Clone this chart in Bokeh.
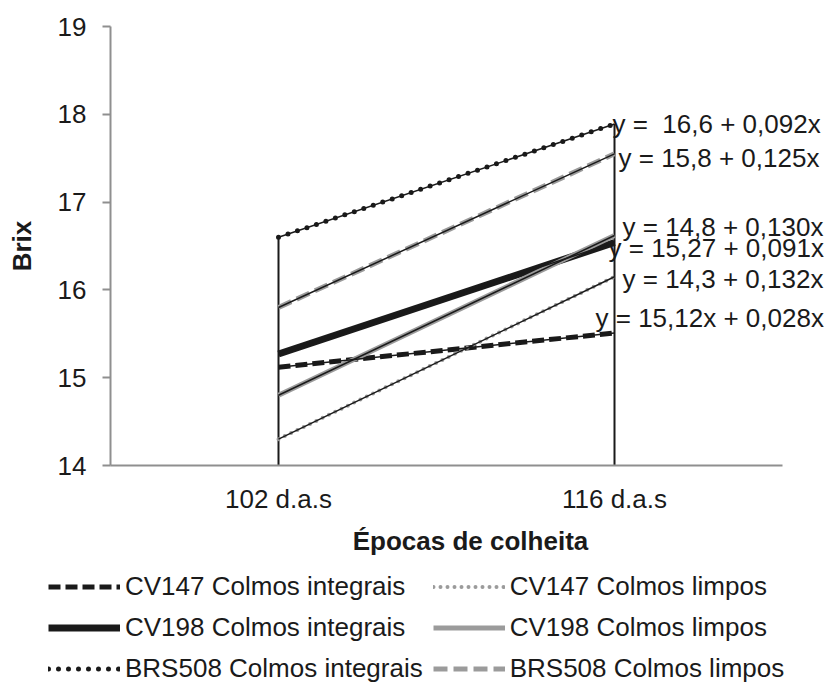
from bokeh.plotting import figure
from bokeh.layouts import column
from bokeh.models import (ColumnDataSource, Range1d, LabelSet, Legend, LegendItem,
                          SingleIntervalTicker, FixedTicker)
from bokeh.core.properties import value
from bokeh.embed import file_html
from bokeh.resources import INLINE

# Harvest dates (days after sowing) and Brix of each cultivar / stalk type
dias = [102, 116]
epocas = ["102 d.a.s", "116 d.a.s"]
series_names = [
    "CV147 Colmos integrais", "CV147 Colmos limpos",
    "CV198 Colmos integrais", "CV198 Colmos limpos",
    "BRS508 Colmos integrais", "BRS508 Colmos limpos",
]
brix_102 = [15.12, 14.30, 15.27, 14.80, 16.60, 15.80]
brix_116 = [15.51, 16.15, 16.54, 16.62, 17.89, 17.55]
equacoes = [
    "y = 15,12x + 0,028x", "y = 14,3 + 0,132x",
    "y = 15,27 + 0,091x", "y = 14,8 + 0,130x",
    "y = \u00a016,6 + 0,092x", "y = 15,8 + 0,125x",
]

FONT = "Liberation Sans"
INK = "#1a1a1a"
AXIS_GREY = "#8f8f8f"
SERIES_GREY = "#9b9b9b"

# line style of each series (same order as series_names)
styles = [
    dict(line_color=INK, line_width=5, line_dash="12 5"),
    dict(line_color=SERIES_GREY, line_width=4, line_dash="0 7", line_cap="round"),
    dict(line_color=INK, line_width=7),
    dict(line_color=SERIES_GREY, line_width=5),
    dict(line_color=INK, line_width=5, line_dash="0 10", line_cap="round"),
    dict(line_color=SERIES_GREY, line_width=5, line_dash="14 6"),
]
# screen offsets of the regression equation labels
label_dx = [-19, 8, -6, 8, -2, 4]
label_dy = [15, -2, -6, 8, 0, -4]

p = figure(
    width=830, height=560,
    x_range=Range1d(95, 125), y_range=Range1d(14, 19),
    output_backend="svg", toolbar_location=None,
    min_border_left=110, min_border_right=0,
    min_border_top=26, min_border_bottom=95,
)
p.outline_line_color = None
p.grid.visible = False
p.background_fill_color = "white"
p.border_fill_color = "white"
p.frame_align = False

# drop lines from the axis to the highest series at each date
tops = [max(brix_102), max(brix_116)]
drop_src = ColumnDataSource(dict(x=dias, y0=[p.y_range.start] * 2, y1=tops))
p.segment(x0="x", y0="y0", x1="x", y1="y1", source=drop_src,
          line_color=INK, line_width=2)

series_sources = [ColumnDataSource(dict(x=dias, y=[a, b]))
                  for a, b in zip(brix_102, brix_116)]
for src, st in zip(series_sources, styles):
    p.line("x", "y", source=src, **st)

# linear trend lines over each series
for src in series_sources:
    p.line("x", "y", source=src, line_color=INK, line_width=1.5)

# regression equations next to the last date
eq_src = ColumnDataSource(dict(
    x=[dias[1]] * len(equacoes), y=brix_116, text=equacoes,
    dx=label_dx, dy=label_dy,
))
p.add_layout(LabelSet(
    x="x", y="y", text="text", source=eq_src,
    x_offset="dx", y_offset="dy",
    text_align="left", text_baseline="middle",
    text_font=value(FONT), text_font_size="26px", text_color=INK,
))

# axes
p.yaxis.ticker = SingleIntervalTicker(interval=1)
p.yaxis.minor_tick_line_color = None
p.yaxis.major_tick_in = 0
p.yaxis.major_tick_out = 8
p.yaxis.major_tick_line_color = AXIS_GREY
p.yaxis.major_tick_line_width = 2
p.yaxis.axis_line_color = AXIS_GREY
p.yaxis.axis_line_width = 2
p.yaxis.major_label_standoff = 16
p.yaxis.axis_label = "Brix"
p.yaxis.axis_label_standoff = 18

p.xaxis.ticker = FixedTicker(ticks=dias)
p.xaxis.major_label_overrides = dict(zip(dias, epocas))
p.xaxis.bounds = (95, 123)
p.xaxis.major_tick_line_color = None
p.xaxis.minor_tick_line_color = None
p.xaxis.axis_line_color = AXIS_GREY
p.xaxis.axis_line_width = 2
p.xaxis.major_label_standoff = 12
p.xaxis.axis_label = "Épocas de colheita"
p.xaxis.axis_label_standoff = 9

for ax in (p.xaxis, p.yaxis):
    ax.major_label_text_font = FONT
    ax.major_label_text_font_size = "26px"
    ax.major_label_text_color = INK
    ax.axis_label_text_font = FONT
    ax.axis_label_text_font_size = "26px"
    ax.axis_label_text_font_style = "bold"
    ax.axis_label_text_color = INK

# legend strip under the chart: same series and line styles, two columns;
# its ranges keep the series lines themselves out of view
leg = figure(
    width=830, height=124, x_range=Range1d(0, 1), y_range=Range1d(0, 1),
    x_axis_type=None, y_axis_type=None,
    output_backend="svg", toolbar_location=None,
    min_border_left=0, min_border_right=0, min_border_top=0, min_border_bottom=0,
)
leg.outline_line_color = None
leg.background_fill_color = "white"
leg.border_fill_color = "white"
leg.frame_align = False
keys = [leg.line("x", "y", source=src, **st) for src, st in zip(series_sources, styles)]

legend = Legend(
    items=[LegendItem(label=n, renderers=[r]) for n, r in zip(series_names, keys)],
    orientation="horizontal", ncols=2,
    location=(48, 0),
    glyph_width=72, glyph_height=31, label_height=31,
    label_standoff=5, spacing=10, padding=0, margin=0,
    label_text_font=FONT, label_text_font_size="26px", label_text_color=INK,
    border_line_alpha=0, background_fill_alpha=0,
)
leg.add_layout(legend, "center")

layout = column(p, leg, spacing=0)
open("out.html", "w").write(file_html(layout, INLINE))
